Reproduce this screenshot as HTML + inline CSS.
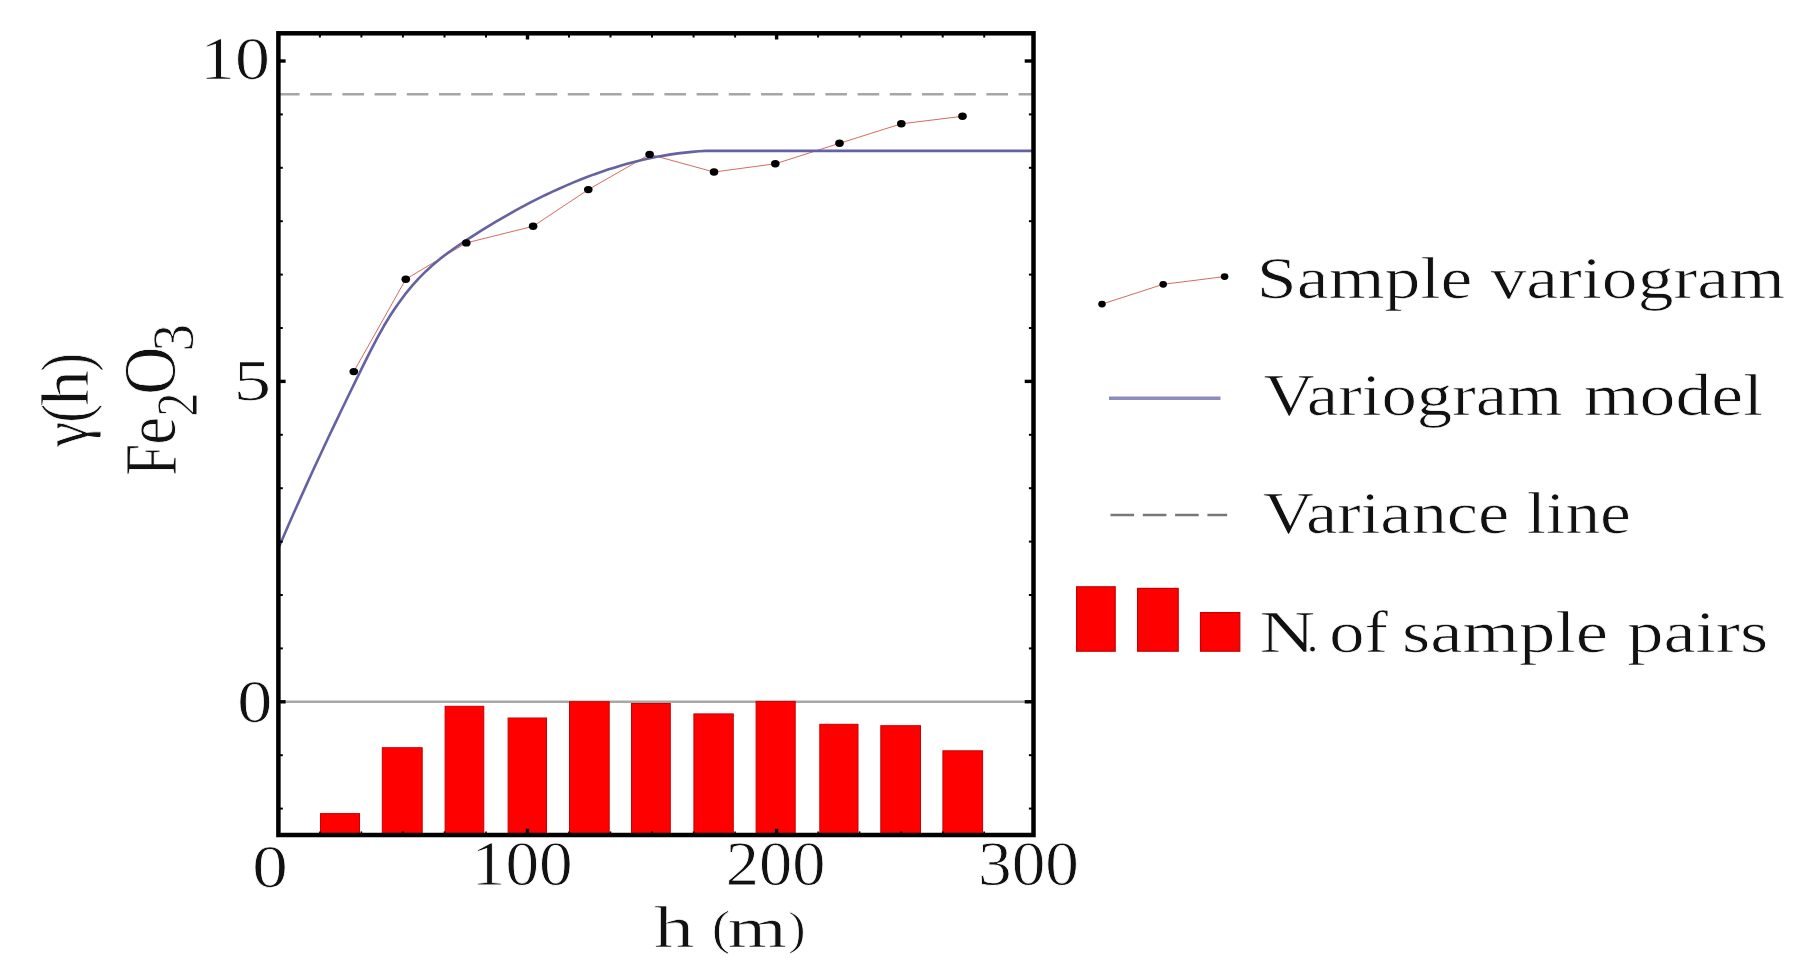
<!DOCTYPE html>
<html lang="en"><head><meta charset="utf-8"><title>Variogram Fe2O3</title>
<style>html,body{margin:0;padding:0;background:#fff;overflow:hidden}svg{display:block;filter:blur(0.55px)}</style></head>
<body>
<svg width="1819" height="977" viewBox="0 0 1819 977">
<rect x="0" y="0" width="1819" height="977" fill="#ffffff"/>
<line x1="278.4" y1="701.8" x2="1033.5" y2="701.8" stroke="#a8a8a8" stroke-width="2.6"/>
<g fill="#fe0000" stroke="#c80000" stroke-width="1">
<rect x="320.5" y="813.6" width="39.0" height="21.9"/>
<rect x="382.3" y="747.7" width="39.9" height="87.8"/>
<rect x="445.1" y="706.3" width="38.7" height="129.2"/>
<rect x="508.1" y="718.0" width="38.4" height="117.5"/>
<rect x="569.5" y="701.7" width="39.7" height="133.8"/>
<rect x="631.5" y="703.5" width="38.8" height="132.0"/>
<rect x="693.9" y="713.9" width="39.4" height="121.6"/>
<rect x="756.1" y="701.4" width="39.1" height="134.1"/>
<rect x="819.8" y="724.3" width="38.2" height="111.2"/>
<rect x="880.8" y="725.7" width="39.7" height="109.8"/>
<rect x="942.9" y="750.8" width="39.7" height="84.7"/>
</g>
<line x1="278.0" y1="94.3" x2="1033.5" y2="94.3" stroke="#a6a6a6" stroke-width="2.4" stroke-dasharray="21.6 10.6"/>
<polyline fill="none" stroke="#cf5a4e" stroke-width="0.9" points="353.8,371.6 405.8,279.2 466.3,242.9 533.1,226.3 588.3,189.6 649.6,154.4 714,172 775.3,163.8 839.5,143.3 901.3,123.8 962.5,116.3"/>
<polyline fill="none" stroke="#6462a2" stroke-width="2.6" stroke-linejoin="round" points="279.0,547.0 286.0,530.8 293.0,514.8 300.0,499.1 307.0,483.6 314.0,468.3 321.0,453.2 328.0,438.3 335.0,423.6 342.0,409.0 349.0,394.5 356.0,380.1 363.0,365.9 370.0,351.9 377.0,338.4 384.0,325.8 391.0,314.3 398.0,303.9 405.0,294.4 412.0,285.9 419.0,278.2 426.0,271.2 433.0,264.8 440.0,258.9 447.0,253.5 454.0,248.5 461.0,243.7 468.0,239.1 475.0,234.6 482.0,230.2 489.0,225.9 496.0,221.7 503.0,217.6 510.0,213.6 517.0,209.7 524.0,205.9 531.0,202.2 538.0,198.7 545.0,195.2 552.0,191.9 559.0,188.7 566.0,185.6 573.0,182.6 580.0,179.8 587.0,177.0 594.0,174.4 601.0,172.0 608.0,169.6 615.0,167.4 622.0,165.3 629.0,163.3 636.0,161.5 643.0,159.8 650.0,158.3 657.0,156.8 664.0,155.6 671.0,154.4 678.0,153.4 685.0,152.6 692.0,151.9 699.0,151.3 706.0,150.9 712.0,150.9 1033,150.9"/>
<g fill="#000">
<ellipse cx="353.8" cy="371.6" rx="4.3" ry="3.7"/>
<ellipse cx="405.8" cy="279.2" rx="4.3" ry="3.7"/>
<ellipse cx="466.3" cy="242.9" rx="4.3" ry="3.7"/>
<ellipse cx="533.1" cy="226.3" rx="4.3" ry="3.7"/>
<ellipse cx="588.3" cy="189.6" rx="4.3" ry="3.7"/>
<ellipse cx="649.6" cy="154.4" rx="4.3" ry="3.7"/>
<ellipse cx="714" cy="172" rx="4.3" ry="3.7"/>
<ellipse cx="775.3" cy="163.8" rx="4.3" ry="3.7"/>
<ellipse cx="839.5" cy="143.3" rx="4.3" ry="3.7"/>
<ellipse cx="901.3" cy="123.8" rx="4.3" ry="3.7"/>
<ellipse cx="962.5" cy="116.3" rx="4.3" ry="3.7"/>
</g>
<g stroke="#000" fill="none">
<line x1="319.9" y1="33.3" x2="319.9" y2="37.5" stroke-width="2.0"/>
<line x1="319.9" y1="835.0" x2="319.9" y2="831.4" stroke-width="1.6"/>
<line x1="361.4" y1="33.3" x2="361.4" y2="37.5" stroke-width="2.0"/>
<line x1="361.4" y1="835.0" x2="361.4" y2="831.4" stroke-width="1.6"/>
<line x1="402.9" y1="33.3" x2="402.9" y2="37.5" stroke-width="2.0"/>
<line x1="402.9" y1="835.0" x2="402.9" y2="831.4" stroke-width="1.6"/>
<line x1="444.5" y1="33.3" x2="444.5" y2="37.5" stroke-width="2.0"/>
<line x1="444.5" y1="835.0" x2="444.5" y2="831.4" stroke-width="1.6"/>
<line x1="486.0" y1="33.3" x2="486.0" y2="37.5" stroke-width="2.0"/>
<line x1="486.0" y1="835.0" x2="486.0" y2="831.4" stroke-width="1.6"/>
<line x1="527.5" y1="33.3" x2="527.5" y2="39.5" stroke-width="3.4"/>
<line x1="527.5" y1="835.0" x2="527.5" y2="828.8" stroke-width="3.4"/>
<line x1="569.0" y1="33.3" x2="569.0" y2="37.5" stroke-width="2.0"/>
<line x1="569.0" y1="835.0" x2="569.0" y2="831.4" stroke-width="1.6"/>
<line x1="610.5" y1="33.3" x2="610.5" y2="37.5" stroke-width="2.0"/>
<line x1="610.5" y1="835.0" x2="610.5" y2="831.4" stroke-width="1.6"/>
<line x1="652.0" y1="33.3" x2="652.0" y2="37.5" stroke-width="2.0"/>
<line x1="652.0" y1="835.0" x2="652.0" y2="831.4" stroke-width="1.6"/>
<line x1="693.6" y1="33.3" x2="693.6" y2="37.5" stroke-width="2.0"/>
<line x1="693.6" y1="835.0" x2="693.6" y2="831.4" stroke-width="1.6"/>
<line x1="735.1" y1="33.3" x2="735.1" y2="37.5" stroke-width="2.0"/>
<line x1="735.1" y1="835.0" x2="735.1" y2="831.4" stroke-width="1.6"/>
<line x1="776.6" y1="33.3" x2="776.6" y2="39.5" stroke-width="3.4"/>
<line x1="776.6" y1="835.0" x2="776.6" y2="828.8" stroke-width="3.4"/>
<line x1="818.1" y1="33.3" x2="818.1" y2="37.5" stroke-width="2.0"/>
<line x1="818.1" y1="835.0" x2="818.1" y2="831.4" stroke-width="1.6"/>
<line x1="859.6" y1="33.3" x2="859.6" y2="37.5" stroke-width="2.0"/>
<line x1="859.6" y1="835.0" x2="859.6" y2="831.4" stroke-width="1.6"/>
<line x1="901.2" y1="33.3" x2="901.2" y2="37.5" stroke-width="2.0"/>
<line x1="901.2" y1="835.0" x2="901.2" y2="831.4" stroke-width="1.6"/>
<line x1="942.7" y1="33.3" x2="942.7" y2="37.5" stroke-width="2.0"/>
<line x1="942.7" y1="835.0" x2="942.7" y2="831.4" stroke-width="1.6"/>
<line x1="984.2" y1="33.3" x2="984.2" y2="37.5" stroke-width="2.0"/>
<line x1="984.2" y1="835.0" x2="984.2" y2="831.4" stroke-width="1.6"/>
<line x1="278.4" y1="61.0" x2="285.59999999999997" y2="61.0" stroke-width="3.4"/>
<line x1="1033.5" y1="61.0" x2="1024.7" y2="61.0" stroke-width="3.4"/>
<line x1="278.4" y1="114.4" x2="282.79999999999995" y2="114.4" stroke-width="2.0"/>
<line x1="1033.5" y1="114.4" x2="1028.9" y2="114.4" stroke-width="2.0"/>
<line x1="278.4" y1="167.8" x2="282.79999999999995" y2="167.8" stroke-width="2.0"/>
<line x1="1033.5" y1="167.8" x2="1028.9" y2="167.8" stroke-width="2.0"/>
<line x1="278.4" y1="221.2" x2="282.79999999999995" y2="221.2" stroke-width="2.0"/>
<line x1="1033.5" y1="221.2" x2="1028.9" y2="221.2" stroke-width="2.0"/>
<line x1="278.4" y1="274.6" x2="282.79999999999995" y2="274.6" stroke-width="2.0"/>
<line x1="1033.5" y1="274.6" x2="1028.9" y2="274.6" stroke-width="2.0"/>
<line x1="278.4" y1="328.0" x2="282.79999999999995" y2="328.0" stroke-width="2.0"/>
<line x1="1033.5" y1="328.0" x2="1028.9" y2="328.0" stroke-width="2.0"/>
<line x1="278.4" y1="381.4" x2="285.59999999999997" y2="381.4" stroke-width="3.4"/>
<line x1="1033.5" y1="381.4" x2="1024.7" y2="381.4" stroke-width="3.4"/>
<line x1="278.4" y1="434.8" x2="282.79999999999995" y2="434.8" stroke-width="2.0"/>
<line x1="1033.5" y1="434.8" x2="1028.9" y2="434.8" stroke-width="2.0"/>
<line x1="278.4" y1="488.2" x2="282.79999999999995" y2="488.2" stroke-width="2.0"/>
<line x1="1033.5" y1="488.2" x2="1028.9" y2="488.2" stroke-width="2.0"/>
<line x1="278.4" y1="541.6" x2="282.79999999999995" y2="541.6" stroke-width="2.0"/>
<line x1="1033.5" y1="541.6" x2="1028.9" y2="541.6" stroke-width="2.0"/>
<line x1="278.4" y1="595.0" x2="282.79999999999995" y2="595.0" stroke-width="2.0"/>
<line x1="1033.5" y1="595.0" x2="1028.9" y2="595.0" stroke-width="2.0"/>
<line x1="278.4" y1="648.4" x2="282.79999999999995" y2="648.4" stroke-width="2.0"/>
<line x1="1033.5" y1="648.4" x2="1028.9" y2="648.4" stroke-width="2.0"/>
<line x1="278.4" y1="701.8" x2="285.59999999999997" y2="701.8" stroke-width="3.4"/>
<line x1="1033.5" y1="701.8" x2="1024.7" y2="701.8" stroke-width="3.4"/>
<line x1="278.4" y1="755.2" x2="282.79999999999995" y2="755.2" stroke-width="2.0"/>
<line x1="1033.5" y1="755.2" x2="1028.9" y2="755.2" stroke-width="2.0"/>
<line x1="278.4" y1="808.6" x2="282.79999999999995" y2="808.6" stroke-width="2.0"/>
<line x1="1033.5" y1="808.6" x2="1028.9" y2="808.6" stroke-width="2.0"/>
</g>
<rect x="278.4" y="33.3" width="755.1" height="801.7" fill="none" stroke="#000" stroke-width="4.5"/>
<polyline fill="none" stroke="#cf5a4e" stroke-width="0.9" points="1102,304.1 1163.2,284.3 1224.6,276.6"/>
<ellipse cx="1102" cy="304.1" rx="3.8" ry="3.4" fill="#000"/>
<ellipse cx="1163.2" cy="284.3" rx="3.8" ry="3.4" fill="#000"/>
<ellipse cx="1224.6" cy="276.6" rx="3.8" ry="3.4" fill="#000"/>
<line x1="1109" y1="398.3" x2="1220.5" y2="398.3" stroke="#8d8cc0" stroke-width="3.6"/>
<line x1="1110.5" y1="515" x2="1227.2" y2="515" stroke="#777" stroke-width="2.4" stroke-dasharray="23.6 8.7"/>
<g fill="#fe0000" stroke="#c80000" stroke-width="1.2">
<rect x="1076.6" y="586.8" width="38.6" height="64.4"/>
<rect x="1137.6" y="588.4" width="40.6" height="62.8"/>
<rect x="1200.5" y="612.6" width="39.3" height="38.6"/>
</g>
<g font-family='"Liberation Serif", "DejaVu Serif", serif' fill="#111" stroke="#fff" stroke-width="0.8" vector-effect="non-scaling-stroke">
<text id="t10" vector-effect="non-scaling-stroke" font-size="58" transform="translate(199.95,79.00) scale(1.2068,1.0647)" xml:space="preserve">10</text>
<text id="t5" vector-effect="non-scaling-stroke" font-size="58" transform="translate(233.61,400.01) scale(1.2998,1.0003)" xml:space="preserve">5</text>
<text id="t0y" vector-effect="non-scaling-stroke" font-size="58" transform="translate(237.26,721.67) scale(1.2115,1.0422)" xml:space="preserve">0</text>
<text id="t0x" vector-effect="non-scaling-stroke" font-size="58" transform="translate(252.24,886.67) scale(1.2268,1.0512)" xml:space="preserve">0</text>
<text id="t100" vector-effect="non-scaling-stroke" font-size="58" transform="translate(471.87,885.01) scale(1.1598,1.0814)" xml:space="preserve">100</text>
<text id="t200" vector-effect="non-scaling-stroke" font-size="58" transform="translate(725.79,885.01) scale(1.1457,1.0814)" xml:space="preserve">200</text>
<text id="t300" vector-effect="non-scaling-stroke" font-size="58" transform="translate(978.09,884.67) scale(1.1600,1.0778)" xml:space="preserve">300</text>
<text id="xh" vector-effect="non-scaling-stroke" font-size="58" transform="translate(654.03,946.84) scale(1.3875,1.0255)" xml:space="preserve">h</text>
<text id="xp1" vector-effect="non-scaling-stroke" font-size="58" transform="translate(711.81,944.08) scale(0.9661,0.8308)" xml:space="preserve">(</text>
<text id="xm" vector-effect="non-scaling-stroke" font-size="58" transform="translate(727.83,946.83) scale(1.3042,0.9752)" xml:space="preserve">m</text>
<text id="xp2" vector-effect="non-scaling-stroke" font-size="58" transform="translate(788.24,944.23) scale(0.8976,0.8174)" xml:space="preserve">)</text>
<text id="yg" vector-effect="non-scaling-stroke" font-size="58" transform="translate(87.14,446.88) rotate(-90) scale(0.9871,1.1324)" xml:space="preserve">γ</text>
<text id="yp1" vector-effect="non-scaling-stroke" font-size="58" transform="translate(88.43,422.75) rotate(-90) scale(0.9781,1.1830)" xml:space="preserve">(</text>
<text id="yh" vector-effect="non-scaling-stroke" font-size="58" transform="translate(88.04,406.07) rotate(-90) scale(1.2365,1.1670)" xml:space="preserve">h</text>
<text id="yp2" vector-effect="non-scaling-stroke" font-size="58" transform="translate(89.06,371.80) rotate(-90) scale(0.9780,1.2091)" xml:space="preserve">)</text>
<text id="fF" vector-effect="non-scaling-stroke" font-size="58" transform="translate(175.52,475.81) rotate(-90) scale(0.9883,1.2928)" xml:space="preserve">F</text>
<text id="fe" vector-effect="non-scaling-stroke" font-size="58" transform="translate(174.94,444.78) rotate(-90) scale(1.0809,1.2480)" xml:space="preserve">e</text>
<text id="f2" vector-effect="non-scaling-stroke" font-size="44" transform="translate(197.43,416.80) rotate(-90) scale(1.1010,1.3379)" xml:space="preserve">2</text>
<text id="fO" vector-effect="non-scaling-stroke" font-size="58" transform="translate(174.93,394.70) rotate(-90) scale(1.1470,1.2633)" xml:space="preserve">O</text>
<text id="f3" vector-effect="non-scaling-stroke" font-size="44" transform="translate(193.29,351.51) rotate(-90) scale(1.2512,1.3359)" xml:space="preserve">3</text>
<text id="l1w0" vector-effect="non-scaling-stroke" font-size="58" transform="translate(1256.84,297.70) scale(1.2385,1.0345)" xml:space="preserve">Sample</text>
<text id="l1w1" vector-effect="non-scaling-stroke" font-size="58" transform="translate(1490.46,297.70) scale(1.2354,1.0345)" xml:space="preserve">variogram</text>
<text id="l2w0" vector-effect="non-scaling-stroke" font-size="58" transform="translate(1263.53,414.90) scale(1.2209,1.0345)" xml:space="preserve">Variogram</text>
<text id="l2w1" vector-effect="non-scaling-stroke" font-size="58" transform="translate(1583.71,414.90) scale(1.2376,1.0345)" xml:space="preserve">model</text>
<text id="l3w0" vector-effect="non-scaling-stroke" font-size="58" transform="translate(1263.02,533.10) scale(1.2146,1.0345)" xml:space="preserve">Variance</text>
<text id="l3w1" vector-effect="non-scaling-stroke" font-size="58" transform="translate(1526.83,533.10) scale(1.1968,1.0345)" xml:space="preserve">line</text>
<text id="l4w0" vector-effect="non-scaling-stroke" font-size="58" transform="translate(1259.59,651.60) scale(1.3283,1.0345)" xml:space="preserve">N</text>
<text id="l4w1" vector-effect="non-scaling-stroke" font-size="58" transform="translate(1329.17,651.60) scale(1.2170,1.0345)" xml:space="preserve">of</text>
<text id="l4w2" vector-effect="non-scaling-stroke" font-size="58" transform="translate(1401.89,651.60) scale(1.2549,1.0345)" xml:space="preserve">sample</text>
<text id="l4w3" vector-effect="non-scaling-stroke" font-size="58" transform="translate(1627.13,651.60) scale(1.2512,1.0345)" xml:space="preserve">pairs</text>
<text id="l4dot" vector-effect="non-scaling-stroke" font-size="58" transform="translate(1306.73,651.54) scale(0.7990,0.8446)" xml:space="preserve">.</text>
</g>
</svg>
</body></html>
